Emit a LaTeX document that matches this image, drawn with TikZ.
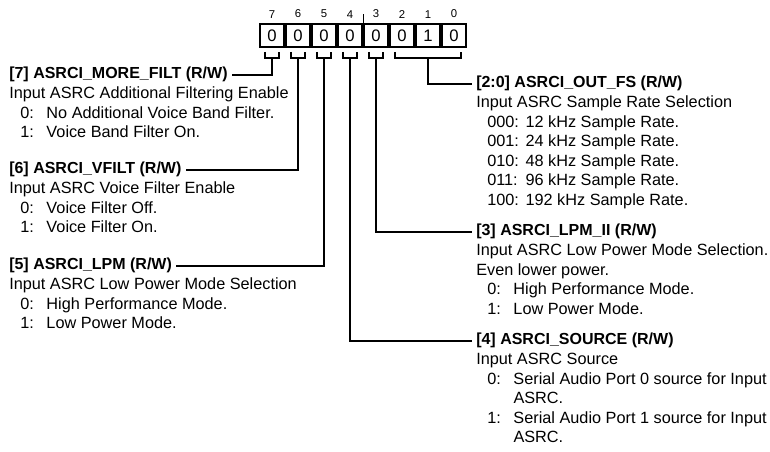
\documentclass[tikz,border=0pt]{standalone}
\usepackage{fontspec}
\setmainfont{Liberation Sans}
\usepackage{tikz}
\usetikzlibrary{positioning}
\tikzset{
  bitcell/.style={draw,line width=1.4pt,minimum width=18.1pt,minimum height=17.3pt,
                  inner sep=0pt,font=\fontsize{12.5}{14.6}\selectfont},
  bitnum/.style={inner sep=0pt,font=\fontsize{8.5}{10}\selectfont},
  fldhead/.style={inner sep=0pt,anchor=west,font=\fontsize{12}{14.6}\selectfont\bfseries,
                  execute at begin node=\strut},
  flddesc/.style={inner sep=0pt,font=\fontsize{12.2}{14.6}\selectfont},
  brk/.style={line width=1.3pt},
  conn/.style={line width=1.3pt,shorten >=3pt},
}

\begin{document}
\begin{tikzpicture}[x=0.75pt,y=-0.75pt]
        \useasboundingbox (0,0) rectangle (770,452);
        % register cells
        \node[bitcell] (b7) at (272,35.5) {0};
        \node[bitcell,right=0pt of b7] (b6) {0};
        \node[bitcell,right=0pt of b6] (b5) {0};
        \node[bitcell,right=0pt of b5] (b4) {0};
        \node[bitcell,right=0pt of b4] (b3) {0};
        \node[bitcell,right=0pt of b3] (b2) {0};
        \node[bitcell,right=0pt of b2] (b1) {1};
        \node[bitcell,right=0pt of b1] (b0) {0};
        \node[bitnum,above=3.5pt of b7] (n7) {7};
        \node[bitnum,above=3.5pt of b6] (n6) {6};
        \node[bitnum,above=3.5pt of b5] (n5) {5};
        \node[bitnum,above=3.5pt of b4] (n4) {4};
        \node[bitnum,above=3.5pt of b3] (n3) {3};
        \node[bitnum,above=3.5pt of b2] (n2) {2};
        \node[bitnum,above=3.5pt of b1] (n1) {1};
        \node[bitnum,above=3.5pt of b0] (n0) {0};
        \draw[line width=0.7pt] (b4.north east) -- ++(0,-9);
        % brackets
        \coordinate (k7) at ([yshift=-7.5pt]b7.south);
        \coordinate (k6) at ([yshift=-7.5pt]b6.south);
        \coordinate (k5) at ([yshift=-7.5pt]b5.south);
        \coordinate (k4) at ([yshift=-7.5pt]b4.south);
        \coordinate (k3) at ([yshift=-7.5pt]b3.south);
        \coordinate (k20) at ([yshift=-7.5pt]b1.south);
        \draw[brk] ([xshift=-5.5pt,yshift=-3pt]b7.south) |- (k7) -| ([xshift=5.5pt,yshift=-3pt]b7.south);
        \draw[brk] ([xshift=-5.5pt,yshift=-3pt]b6.south) |- (k6) -| ([xshift=5.5pt,yshift=-3pt]b6.south);
        \draw[brk] ([xshift=-5.5pt,yshift=-3pt]b5.south) |- (k5) -| ([xshift=5.5pt,yshift=-3pt]b5.south);
        \draw[brk] ([xshift=-5.5pt,yshift=-3pt]b4.south) |- (k4) -| ([xshift=5.5pt,yshift=-3pt]b4.south);
        \draw[brk] ([xshift=-5.5pt,yshift=-3pt]b3.south) |- (k3) -| ([xshift=5.5pt,yshift=-3pt]b3.south);
        \draw[brk] ([xshift=-5.5pt,yshift=-3pt]b2.south) |- (k20) -| ([xshift=5.5pt,yshift=-3pt]b0.south);
        % left fields
        \node[fldhead] (h7) at (9,75) {[7] ASRCI\_MORE\_FILT (R/W)};
        \node[flddesc,below=0pt of h7.south west,anchor=north west] (d7) {%
          \begin{tabular}{@{\hspace{8.25pt}}l@{\hspace{9.5pt}}l@{}}
          \multicolumn{2}{@{}l@{}}{Input ASRC Additional Filtering Enable}\\
          0: & No Additional Voice Band Filter.\\
          1: & Voice Band Filter On.
          \end{tabular}};
        \node[fldhead] (h6) at (9,170) {[6] ASRCI\_VFILT (R/W)};
        \node[flddesc,below=0pt of h6.south west,anchor=north west] (d6) {%
          \begin{tabular}{@{\hspace{8.25pt}}l@{\hspace{9.5pt}}l@{}}
          \multicolumn{2}{@{}l@{}}{Input ASRC Voice Filter Enable}\\
          0: & Voice Filter Off.\\
          1: & Voice Filter On.
          \end{tabular}};
        \node[fldhead] (h5) at (9,266) {[5] ASRCI\_LPM (R/W)};
        \node[flddesc,below=0pt of h5.south west,anchor=north west] (d5) {%
          \begin{tabular}{@{\hspace{8.25pt}}l@{\hspace{9.5pt}}l@{}}
          \multicolumn{2}{@{}l@{}}{Input ASRC Low Power Mode Selection}\\
          0: & High Performance Mode.\\
          1: & Low Power Mode.
          \end{tabular}};
        % right fields
        \node[fldhead] (h20) at (476,84) {[2:0] ASRCI\_OUT\_FS (R/W)};
        \node[flddesc,below=0pt of h20.south west,anchor=north west] (d20) {%
          \begin{tabular}{@{\hspace{8.25pt}}l@{\hspace{5pt}}l@{}}
          \multicolumn{2}{@{}l@{}}{Input ASRC Sample Rate Selection}\\
          000: & 12 kHz Sample Rate.\\
          001: & 24 kHz Sample Rate.\\
          010: & 48 kHz Sample Rate.\\
          011: & 96 kHz Sample Rate.\\
          100: & 192 kHz Sample Rate.
          \end{tabular}};
        \node[fldhead] (h3) at (476,232) {[3] ASRCI\_LPM\_II (R/W)};
        \node[flddesc,below=0pt of h3.south west,anchor=north west] (d3) {%
          \begin{tabular}{@{\hspace{8.25pt}}l@{\hspace{9.5pt}}l@{}}
          \multicolumn{2}{@{}l@{}}{Input ASRC Low Power Mode Selection.}\\
          \multicolumn{2}{@{}l@{}}{Even lower power.}\\
          0: & High Performance Mode.\\
          1: & Low Power Mode.
          \end{tabular}};
        \node[fldhead] (h4) at (476,341) {[4] ASRCI\_SOURCE (R/W)};
        \node[flddesc,below=0pt of h4.south west,anchor=north west] (d4) {%
          \begin{tabular}{@{\hspace{8.25pt}}l@{\hspace{9.5pt}}l@{}}
          \multicolumn{2}{@{}l@{}}{Input ASRC Source}\\
          0: & Serial Audio Port 0 source for Input\\
             & ASRC.\\
          1: & Serial Audio Port 1 source for Input\\
             & ASRC.
          \end{tabular}};
        % connectors
        \draw[conn] (k7) |- (h7);
        \draw[conn] (k6) |- (h6);
        \draw[conn] (k5) |- (h5);
        \draw[conn] (k4) |- (h4);
        \draw[conn] (k3) |- (h3);
        \draw[conn] (k20) |- (h20);
\end{tikzpicture}
\end{document}
